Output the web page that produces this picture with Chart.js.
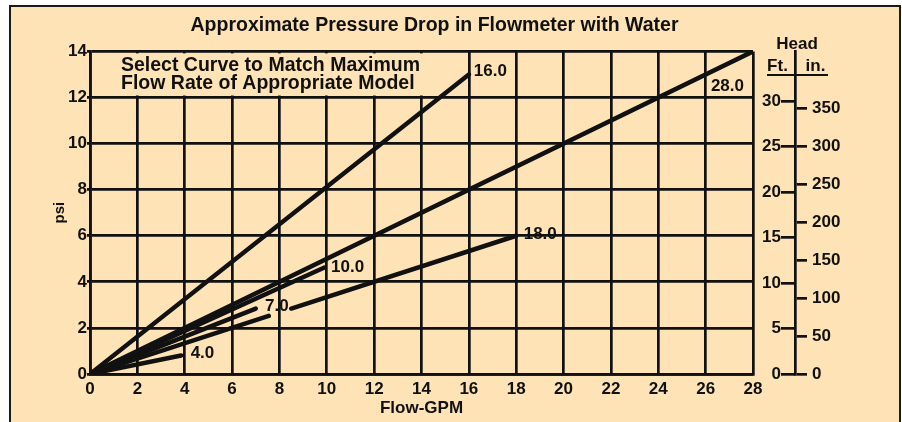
<!DOCTYPE html>
<html>
<head>
<meta charset="utf-8">
<title>Approximate Pressure Drop in Flowmeter with Water</title>
<script src="https://cdn.jsdelivr.net/npm/chart.js@4.4.1/dist/chart.umd.min.js"></script>
<style>
html,body{margin:0;padding:0;background:#fff;overflow:hidden}
#frame{position:absolute;left:9px;top:5px;width:888px;height:420px;border:2px solid #1a1a1a;background:#fde3b5}
canvas{display:block}
</style>
</head>
<body>
<div id="frame"><canvas id="flowChart" width="888" height="415"></canvas></div>
<script>

/* =========================
   DATA
========================= */

let flowTicks = [0,2,4,6,8,10,12,14,16,18,20,22,24,26,28]
let psiTicks = [0,2,4,6,8,10,12,14]
let ftTicks = [0,5,10,15,20,25,30]
let inTicks = [0,50,100,150,200,250,300,350]

let curveNames = ["16.0","28.0","18.0","10.0","7.0","4.0"]

let flow16 = [0,16]
let psi16 = [0,13]

let flow28 = [0,28]
let psi28 = [0,14]

/* 18.0 curve is broken where the 7.0 label sits */
let flow18 = [0,7.55,8.05,8.5,18]
let psi18 = [0,2.52,null,2.84,6]

let flow10 = [0,9.9]
let psi10 = [0,4.62]

let flow7 = [0,7.0]
let psi7 = [0,2.84]

let flow4 = [0,3.85]
let psi4 = [0,0.8]

let noteLines = ["Select Curve to Match Maximum","Flow Rate of Appropriate Model"]

/* head scale as drawn: 30 ft sits at about 11.84 psi */
let ftPerPsi = 2.533

/* =========================
   STYLE
========================= */

let ink = "#111111"
let paper = "#fde3b5"
let fontFamily = "'Liberation Sans', Arial, Helvetica, sans-serif"

Chart.defaults.font.family = fontFamily
Chart.defaults.color = ink

/* label offsets from the end of each curve: dx, dy, align */
let labelOffsets = [
[5,-2.7,"left"],
[-9,34.7,"right"],
[7.5,-1.7,"left"],
[6.6,0,"left"],
[9.2,-2.5,"left"],
[9.5,-2.6,"left"]
]

function toPoints(xs,ys){
return xs.map((v,i)=>({x:v,y:ys[i]}))
}

function curve(xs,ys){
return {
data:toPoints(xs,ys),
borderColor:ink,
borderWidth:4.5,
borderCapStyle:"round",
pointRadius:0,
tension:0,
spanGaps:false,
xAxisID:"x",
yAxisID:"y"
}
}

function fixedTicks(list){
return function(scale){
scale.ticks = list.map(v=>({value:v}))
}
}

let tickFont = {size:17,weight:"bold"}
let gridWidth = 2.7

/* =========================
   PLUGINS
========================= */

/* blank panel holding the instruction text (no verticals in it) */
let notePanel = {
id:"notePanel",
beforeDatasetsDraw(chart){
let ctx = chart.ctx
let x = chart.scales.x
let y = chart.scales.y
let l = x.getPixelForValue(0)+2
let r = x.getPixelForValue(16)-2
let t = y.getPixelForValue(14)+2
let b = y.getPixelForValue(12)-2
ctx.save()
ctx.fillStyle = paper
ctx.fillRect(l,t,r-l,b-t)
ctx.fillStyle = ink
ctx.font = "bold 19.5px "+fontFamily
ctx.textAlign = "left"
ctx.textBaseline = "alphabetic"
ctx.fillText(noteLines[0],x.getPixelForValue(0)+31,y.getPixelForValue(14)+19.4)
ctx.fillText(noteLines[1],x.getPixelForValue(0)+31,y.getPixelForValue(14)+38)
ctx.restore()
}
}

/* curve names next to each curve end */
let curveLabels = {
id:"curveLabels",
afterDatasetsDraw(chart){
let ctx = chart.ctx
ctx.save()
ctx.fillStyle = ink
ctx.font = "bold 17px "+fontFamily
ctx.textBaseline = "middle"
chart.data.datasets.forEach((ds,i)=>{
let pts = ds.data.filter(p=>p.y!==null)
let end = pts[pts.length-1]
let px = chart.scales.x.getPixelForValue(end.x)
let py = chart.scales.y.getPixelForValue(end.y)
let off = labelOffsets[i]
ctx.textAlign = off[2]
ctx.fillText(curveNames[i],px+off[0],py+off[1])
})
ctx.restore()
}
}

/* "Head  Ft. | in." header over the right hand scales */
let headHeader = {
id:"headHeader",
afterDraw(chart){
let ctx = chart.ctx
let ax = chart.scales.inch.left
let top = chart.chartArea.top
ctx.save()
ctx.fillStyle = ink
ctx.font = "bold 17px "+fontFamily
ctx.textAlign = "center"
ctx.textBaseline = "middle"
ctx.fillText("Head",ax+2,top-7)
ctx.fillText("Ft.",ax-17.5,top+15.4)
ctx.fillText("in.",ax+20.5,top+15.4)
ctx.strokeStyle = ink
ctx.lineWidth = 2
ctx.beginPath()
ctx.moveTo(ax-28,top+23.7)
ctx.lineTo(ax+33,top+23.7)
ctx.stroke()
ctx.restore()
}
}

/* =========================
   CHART
========================= */

let ctx = document.getElementById("flowChart").getContext("2d")

let chart = new Chart(ctx,{
type:"line",
data:{
datasets:[
curve(flow16,psi16),
curve(flow28,psi28),
curve(flow18,psi18),
curve(flow10,psi10),
curve(flow7,psi7),
curve(flow4,psi4)
]
},
options:{
responsive:false,
animation:false,
events:[],
layout:{padding:{left:3,right:44,top:0,bottom:0}},
plugins:{
legend:{display:false},
tooltip:{enabled:false},
title:{
display:true,
text:"Approximate Pressure Drop in Flowmeter with Water",
color:ink,
font:{size:19.5,weight:"bold"},
padding:{top:7,bottom:14}
}
},
scales:{
x:{
type:"linear",
position:"bottom",
min:0,
max:28,
afterBuildTicks:fixedTicks(flowTicks),
afterFit:s=>{s.height=48},
grid:{color:ink,lineWidth:gridWidth,drawTicks:false},
border:{color:ink,width:gridWidth},
ticks:{color:ink,font:tickFont,padding:5,maxRotation:0,autoSkip:false},
title:{display:true,text:"Flow-GPM",color:ink,font:tickFont,padding:{top:0,bottom:3.5}}
},
y:{
type:"linear",
position:"left",
min:0,
max:14,
afterBuildTicks:fixedTicks(psiTicks),
afterFit:s=>{s.width=76},
grid:{color:ink,lineWidth:gridWidth,tickLength:3},
border:{color:ink,width:gridWidth},
ticks:{color:ink,font:tickFont,padding:0},
title:{display:true,text:"psi",color:ink,font:{size:15,weight:"bold"},padding:{top:36.5}}
},
ft:{
type:"linear",
position:"right",
weight:1,
min:0,
max:14*ftPerPsi,
afterBuildTicks:fixedTicks(ftTicks),
afterFit:s=>{s.width=28},
grid:{display:false},
border:{display:false},
ticks:{color:ink,font:tickFont,crossAlign:"far"}
},
ftMarks:{
type:"linear",
position:"right",
weight:2,
min:0,
max:14*ftPerPsi,
afterBuildTicks:fixedTicks(ftTicks),
afterFit:s=>{s.width=14},
grid:{drawOnChartArea:false,color:ink,lineWidth:gridWidth,tickLength:14},
border:{display:false},
ticks:{display:false}
},
inch:{
type:"linear",
position:"right",
weight:3,
min:0,
max:14*ftPerPsi*12,
afterBuildTicks:fixedTicks(inTicks),
afterFit:s=>{s.width=60},
grid:{drawOnChartArea:false,color:ink,lineWidth:gridWidth,tickLength:12},
border:{color:ink,width:gridWidth},
ticks:{color:ink,font:tickFont,padding:5}
}
}
},
plugins:[notePanel,curveLabels,headHeader]
})

</script>
</body>
</html>
